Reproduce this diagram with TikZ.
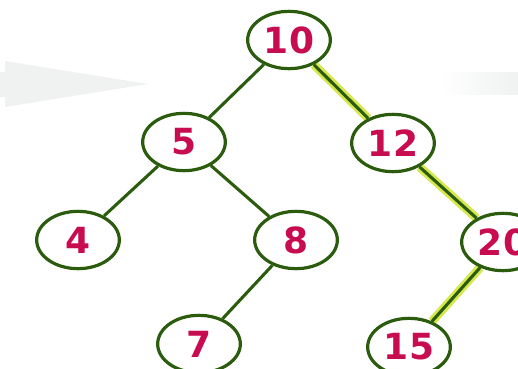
\documentclass[tikz,border=0pt]{standalone}
\usepackage{fontspec}
\setmainfont{DejaVu Sans}
\usetikzlibrary{shapes.geometric,backgrounds}
\definecolor{treegreen}{HTML}{2B5B0C}
\definecolor{keyred}{HTML}{C80C50}
\definecolor{pathglow}{HTML}{D6E84E}
\definecolor{hintgray}{HTML}{F0F1F1}
\begin{document}
\begin{tikzpicture}[x=0.75pt,y=-0.75pt,
    key/.style={ellipse,draw=treegreen,line width=2.4pt,fill=white,minimum width=62pt,
      minimum height=43pt,inner sep=0pt,text=keyred,font=\bfseries\fontsize{27}{27}\selectfont},
    link/.style={draw=treegreen,line width=2.3pt},
    glow/.style={draw=pathglow,line width=6.5pt}]
    \useasboundingbox (0,0) rectangle (518,368);
    \clip (0,0) rectangle (518,368);
    % faint arrows behind the tree
    \fill [hintgray] (0,72) -- (5,72) -- (5,61) -- (148,84) -- (5,107) -- (5,97) -- (0,97) -- cycle;
    \shade [left color=white,right color=hintgray] (440,72) rectangle (518,94);
    % keys
    \node [key] (k10) at (289,40) {10};
    \node [key] (k5) at (184,142) {5};
    \node [key] (k12) at (393,143) {12};
    \node [key] (k4) at (78,240) {4};
    \node [key] (k8) at (296,240) {8};
    \node [key] (k20) at (503,242) {20};
    \node [key] (k7) at (199,344) {7};
    \node [key] (k15) at (409,347) {15};
    \begin{scope}[on background layer]
        \foreach \a/\b in {k10/k12,k12/k20,k20/k15}
            \draw [glow] (\a) -- (\b);
        \foreach \a/\b in {k10/k5,k10/k12,k5/k4,k5/k8,k12/k20,k8/k7,k20/k15}
            \draw [link] (\a) -- (\b);
    \end{scope}
\end{tikzpicture}
\end{document}
